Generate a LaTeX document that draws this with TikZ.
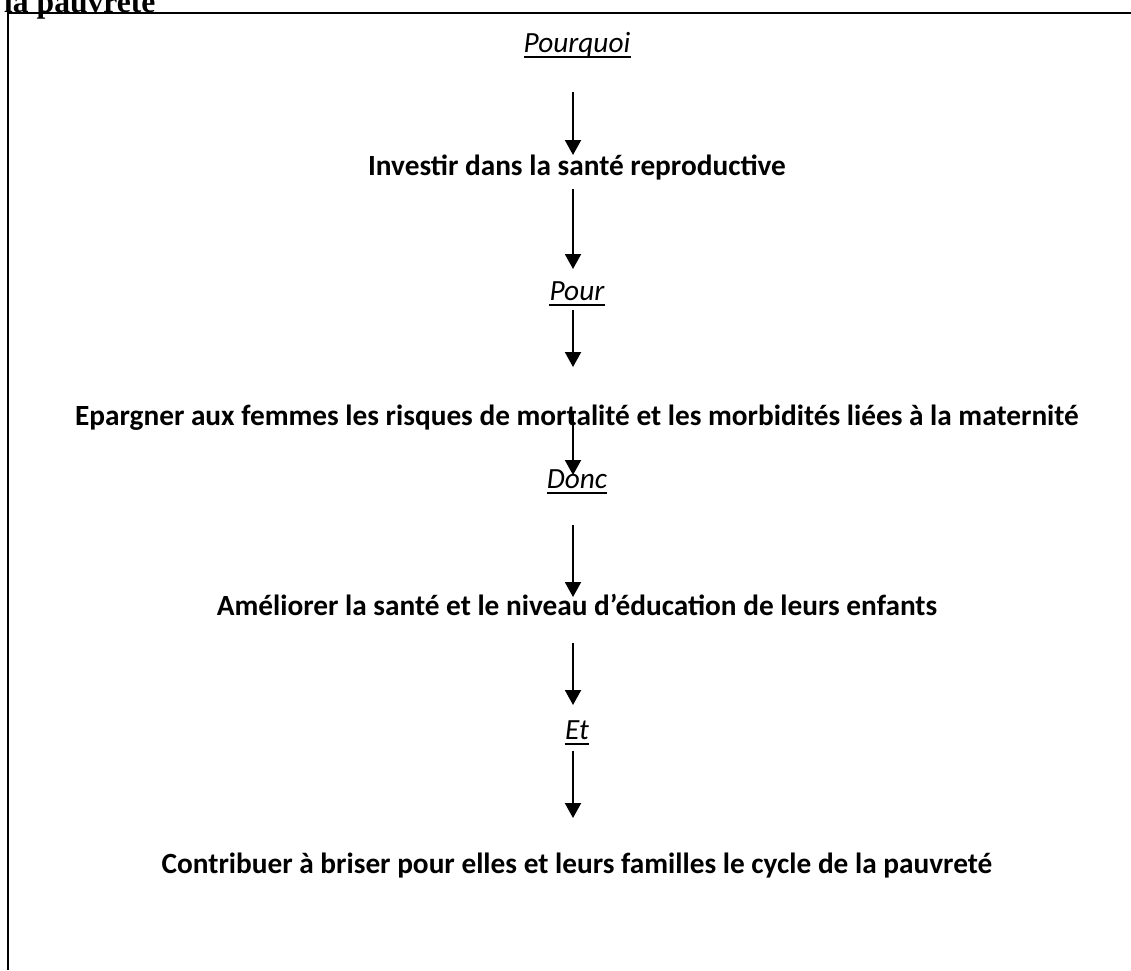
\documentclass[tikz,border=0pt]{standalone}
\usepackage{fontspec}
\setmainfont{Carlito}
\newfontfamily\timesfont{Liberation Serif}
\usetikzlibrary{arrows.meta}
\begin{document}
\begin{tikzpicture}[x=1pt,y=-1pt,
  lbl/.style={anchor=base,inner sep=0pt,font=\fontsize{29.3}{34}\selectfont\bfseries},
  conj/.style={anchor=base,inner sep=0pt,font=\fontsize{29.3}{34}\selectfont\itshape},
  flow/.style={line width=2pt,-{Triangle[width=16pt,length=15pt]}},
  uline/.style={line width=2pt}]
\useasboundingbox (0,0) rectangle (1131,970);
\node[anchor=base west, inner sep=0pt, font=\fontsize{31.6}{36}\selectfont\timesfont\bfseries] (title) at (4,12) {la pauvreté};
\draw[line width=2.2pt] (8,970) -- (8,13) -- (1131,13);

\node[conj] (pourquoi) at (577,52) {Pourquoi};
\node[lbl] (investir) at (577,175) {Investir dans la santé reproductive};
\node[conj] (pour) at (577,300) {Pour};
\node[lbl] (epargner) at (577,425) {Epargner aux femmes les risques de mortalité et les morbidités liées à la maternité};
\node[conj] (donc) at (577,488) {Donc};
\node[lbl] (ameliorer) at (577,615) {Améliorer la santé et le niveau d’éducation de leurs enfants};
\node[conj] (et) at (577,739) {Et};
\node[lbl] (contribuer) at (577,873) {Contribuer à briser pour elles et leurs familles le cycle de la pauvreté};

\foreach \n in {pourquoi,pour,donc,et}
  \draw[uline] ([yshift=-5pt]\n.base west) -- ([yshift=-5pt]\n.base east);

\coordinate (a1s) at (573,92);  \coordinate (a1e) at (573,155);
\coordinate (a2s) at (573,189); \coordinate (a2e) at (573,269);
\coordinate (a3s) at (573,310); \coordinate (a3e) at (573,367);
\coordinate (a4s) at (573,412); \coordinate (a4e) at (573,475);
\coordinate (a5s) at (573,525); \coordinate (a5e) at (573,597);
\coordinate (a6s) at (573,643); \coordinate (a6e) at (573,705);
\coordinate (a7s) at (573,751); \coordinate (a7e) at (573,818);
\foreach \i in {1,...,7}
  \draw[flow] (a\i s) -- (a\i e);
\end{tikzpicture}
\end{document}
